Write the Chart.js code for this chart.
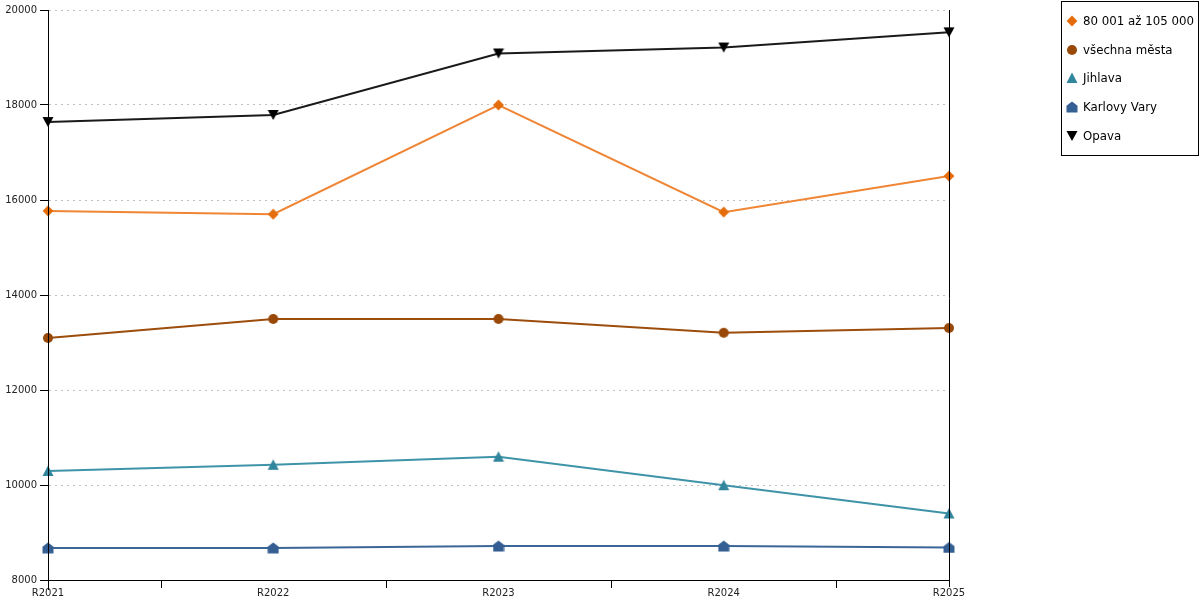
<!DOCTYPE html>
<html><head><meta charset="utf-8">
<script src="https://cdn.jsdelivr.net/npm/chart.js@4"></script>
<style>
html,body{margin:0;padding:0;background:#fff;}
#wrap{position:relative;width:1200px;height:600px;}
#legend{position:absolute;left:1061px;top:1px;width:138px;height:155px;border:1px solid #000;font-family:'DejaVu Sans';font-size:11.8px;color:#000;box-sizing:border-box;}
.item{position:absolute;left:4px;height:20px;display:flex;align-items:center;white-space:nowrap;}
.item canvas{margin-right:5px;display:block;}
</style></head><body>
<div id="wrap"><canvas id="c" width="1200" height="600"></canvas><div id="legend"></div></div>
<script>
const categories = ['R2021', 'R2022', 'R2023', 'R2024', 'R2025'];
const seriesNames = ['80 001 až 105 000', 'všechna města', 'Jihlava', 'Karlovy Vary', 'Opava'];
const valuesGroup = [15770, 15700, 18000, 15745, 16505];
const valuesAllCities = [13095, 13495, 13495, 13205, 13305];
const valuesJihlava = [10295, 10425, 10595, 9995, 9400];
const valuesKarlovyVary = [8675, 8675, 8715, 8715, 8685];
const valuesOpava = [17642, 17790, 19085, 19210, 19530];
const yTickValues = [8000, 10000, 12000, 14000, 16000, 18000, 20000];

const markerColors = ['#e46c0a', '#984807', '#31859c', '#355f93', '#000000'];
const lineColors = ['#ef8535', '#9c4d0c', '#3f93a9', '#3b6698', '#1a1a1a'];
const markerTypes = ['diamond', 'circle', 'tri', 'house', 'invtri'];

function drawShape(ctx, type, color, cx, cy) {
  ctx.fillStyle = color;
  ctx.beginPath();
  if (type === 'diamond') {
    ctx.moveTo(cx, cy - 5.4); ctx.lineTo(cx + 5.4, cy); ctx.lineTo(cx, cy + 5.4); ctx.lineTo(cx - 5.4, cy);
  } else if (type === 'circle') {
    ctx.arc(cx, cy, 5, 0, Math.PI * 2);
  } else if (type === 'tri') {
    ctx.moveTo(cx, cy - 5.5); ctx.lineTo(cx + 5.5, cy + 5); ctx.lineTo(cx - 5.5, cy + 5);
  } else if (type === 'invtri') {
    ctx.moveTo(cx - 5.5, cy - 5); ctx.lineTo(cx + 5.5, cy - 5); ctx.lineTo(cx, cy + 5);
  } else if (type === 'house') {
    ctx.moveTo(cx, cy - 5.5); ctx.lineTo(cx + 5.5, cy - 1.2); ctx.lineTo(cx + 5.5, cy + 5.5);
    ctx.lineTo(cx - 5.5, cy + 5.5); ctx.lineTo(cx - 5.5, cy - 1.2);
  }
  ctx.closePath();
  ctx.fill();
}
function makeMarker(type, color) {
  const c = document.createElement('canvas');
  c.width = 12; c.height = 12;
  drawShape(c.getContext('2d'), type, color, 6, 6);
  return c;
}

const seriesValues = [valuesGroup, valuesAllCities, valuesJihlava, valuesKarlovyVary, valuesOpava];
const datasets = seriesValues.map((vals, i) => ({
  label: seriesNames[i],
  data: vals,
  borderColor: lineColors[i],
  backgroundColor: markerColors[i],
  borderWidth: 2,
  tension: 0,
  pointStyle: makeMarker(markerTypes[i], markerColors[i]),
  pointRadius: 6,
  pointHoverRadius: 6,
  pointBorderWidth: 0
}));

// HTML legend
const legend = document.getElementById('legend');
const rowCenters = [20, 48.5, 77, 106, 135];
seriesNames.forEach((name, i) => {
  const item = document.createElement('div');
  item.className = 'item';
  item.style.top = (rowCenters[i] - 10 - 1) + 'px';
  const ic = makeMarker(markerTypes[i], markerColors[i]);
  item.appendChild(ic);
  const span = document.createElement('span');
  span.textContent = name;
  item.appendChild(span);
  legend.appendChild(item);
});

const axisExtras = {
  id: 'axisExtras',
  afterDraw(chart) {
    const { ctx, chartArea: a, scales: { x } } = chart;
    ctx.save();
    ctx.strokeStyle = '#000';
    ctx.lineWidth = 1;
    ctx.setLineDash([]);
    ctx.beginPath();
    const r = Math.round(a.right) + 0.5;
    const l = Math.round(a.left) + 0.5;
    ctx.moveTo(r, a.top); ctx.lineTo(r, a.bottom + 7);
    ctx.moveTo(l, a.top); ctx.lineTo(l, a.bottom + 10);
    for (let i = 0; i < categories.length - 1; i++) {
      const px = Math.round((x.getPixelForValue(i) + x.getPixelForValue(i + 1)) / 2) + 0.5;
      ctx.moveTo(px, a.bottom); ctx.lineTo(px, a.bottom + 8);
    }
    ctx.stroke();
    ctx.restore();
  }
};

new Chart(document.getElementById('c'), {
  type: 'line',
  data: { labels: categories, datasets },
  options: {
    responsive: false,
    animation: false,
    devicePixelRatio: 1,
    layout: { padding: { left: 0, right: 251, top: 10, bottom: 0 } },
    plugins: { legend: { display: false }, tooltip: { enabled: false } },
    scales: {
      x: {
        grid: { display: false, drawTicks: true, tickLength: 6 },
        border: { display: true, color: '#000', width: 1 },
        ticks: { color: '#222', font: { family: 'DejaVu Sans', size: 10 }, padding: 1, maxRotation: 0, autoSkip: false },
        afterFit: s => { s.height = 20; }
      },
      y: {
        min: 8000, max: 20000,
        afterBuildTicks: s => { s.ticks = yTickValues.map(v => ({ value: v })); },
        afterFit: s => { s.width = 48; },
        grid: {
          color: c => (c.tick && c.tick.value === 8000) ? 'rgba(0,0,0,0)' : '#c0c0c0',
          tickColor: '#000',
          tickLength: 8,
          tickBorderDash: [],
          lineWidth: 1
        },
        border: { display: true, color: '#000', width: 1, dash: [2, 4] },
        ticks: { color: '#222', font: { family: 'DejaVu Sans', size: 10 }, padding: 3, callback: v => String(v) }
      }
    }
  },
  plugins: [axisExtras]
});
</script>
</body></html>
